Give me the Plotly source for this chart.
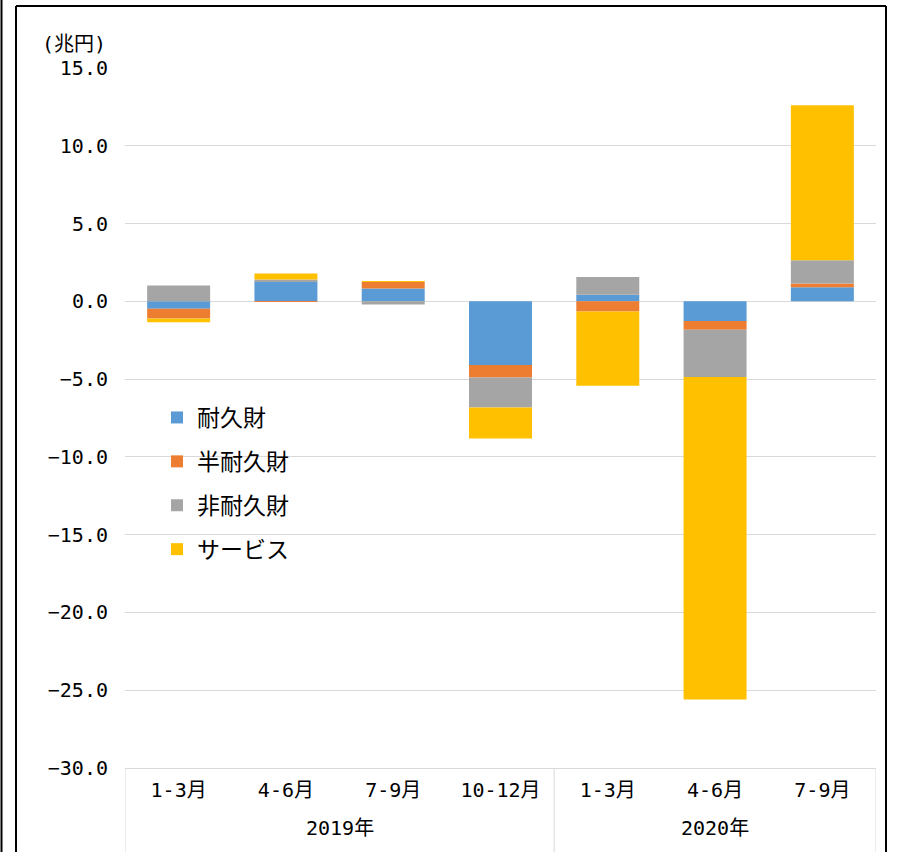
import plotly.graph_objects as go

# Quarterly contributions to change in consumption (trillion yen)
years = ["2019年", "2019年", "2019年", "2019年", "2020年", "2020年", "2020年"]
quarters = ["1-3月", "4-6月", "7-9月", "10-12月", "1-3月", "4-6月", "7-9月"]

durable = [-0.47, 1.29, 0.82, -4.09, 0.43, -1.27, 0.90]
semi_durable = [-0.64, -0.03, 0.43, -0.80, -0.66, -0.55, 0.24]
non_durable = [1.01, 0.11, -0.20, -1.93, 1.14, -3.05, 1.50]
services = [-0.24, 0.39, 0.03, -1.99, -4.76, -20.73, 9.96]

series_names = ["耐久財", "半耐久財", "非耐久財", "サービス"]
series_values = [durable, semi_durable, non_durable, services]
series_colors = ["#5B9BD5", "#ED7D31", "#A5A5A5", "#FFC000"]

y_ticks = [15, 10, 5, 0, -5, -10, -15, -20, -25, -30]

num_font = "DejaVu Sans Mono, Noto Sans CJK JP, sans-serif"
jp_font = "Noto Sans CJK JP, sans-serif"

# category slots along the x axis
x_pos = list(range(len(quarters)))

fig = go.Figure()
for name, vals, color in zip(series_names, series_values, series_colors):
    fig.add_trace(go.Bar(
        x=x_pos,
        y=vals,
        name=name,
        legendgroup=name,
        marker=dict(color=color, line=dict(width=0)),
    ))

# plot area geometry (pixels)
L, R, T, B = 125, 28, 68, 84
W, H = 904, 852
pw, ph = W - L - R, H - T - B


def px_x(x):
    return (x - L) / pw


def px_y(y):
    return (H - B - y) / ph


grid_color = "#D9D9D9"
line_black = dict(color="black", width=2)
shapes = [
    # outer frame around the chart
    dict(type="line", xref="paper", yref="paper", x0=px_x(16), x1=px_x(16),
         y0=px_y(6), y1=px_y(860), line=line_black),
    dict(type="line", xref="paper", yref="paper", x0=px_x(16), x1=px_x(886),
         y0=px_y(6), y1=px_y(6), line=line_black),
    dict(type="line", xref="paper", yref="paper", x0=px_x(886), x1=px_x(886),
         y0=px_y(6), y1=px_y(860), line=line_black),
    dict(type="line", xref="paper", yref="paper", x0=px_x(1.5), x1=px_x(1.5),
         y0=px_y(-5), y1=px_y(860), line=line_black),
]

annotations = [
    dict(text="(兆円)", xref="paper", yref="paper",
         x=px_x(40), y=px_y(44), xanchor="left", yanchor="middle",
         showarrow=False, font=dict(family=num_font, size=20, color="black")),
]

# year groups: label centred under its quarters, dividers at group edges
groups = []
for i, yr in enumerate(years):
    if not groups or groups[-1][0] != yr:
        groups.append([yr, i, i])
    else:
        groups[-1][2] = i

edges = sorted({g[1] - 0.5 for g in groups} | {g[2] + 0.5 for g in groups})
for e in edges:
    shapes.append(dict(type="line", xref="x", yref="paper", x0=e, x1=e,
                       y0=0, y1=px_y(870), line=dict(color=grid_color, width=1)))

for yr, i0, i1 in groups:
    annotations.append(dict(text=yr, xref="x", yref="paper",
                            x=(i0 + i1) / 2, y=px_y(828),
                            xanchor="center", yanchor="middle", showarrow=False,
                            font=dict(family=num_font, size=20, color="black")))

fig.update_layout(
    width=W,
    height=H,
    margin=dict(l=L, r=R, t=T, b=B),
    paper_bgcolor="white",
    plot_bgcolor="white",
    barmode="relative",
    bargap=0.413,
    showlegend=True,
    legend=dict(
        x=px_x(157), y=px_y(396), xanchor="left", yanchor="top",
        traceorder="grouped", tracegroupgap=11,
        font=dict(family=jp_font, size=23, color="black"),
        bgcolor="rgba(0,0,0,0)",
        itemwidth=30,
    ),
    shapes=shapes,
    annotations=annotations,
    yaxis=dict(
        range=[-30, 15],
        tickvals=y_ticks,
        tickformat=".1f",
        showgrid=True,
        gridcolor=grid_color,
        gridwidth=1,
        zeroline=False,
        showline=False,
        ticks="",
        ticklabelstandoff=16,
        tickfont=dict(family=num_font, size=20, color="black"),
    ),
    xaxis=dict(
        range=[-0.5, len(quarters) - 0.5],
        tickvals=x_pos,
        ticktext=quarters,
        showgrid=False,
        zeroline=False,
        showline=True,
        linecolor=grid_color,
        linewidth=1,
        ticks="",
        ticklabelstandoff=4,
        tickfont=dict(family=num_font, size=20, color="black"),
    ),
)

fig.write_html("out.html")
